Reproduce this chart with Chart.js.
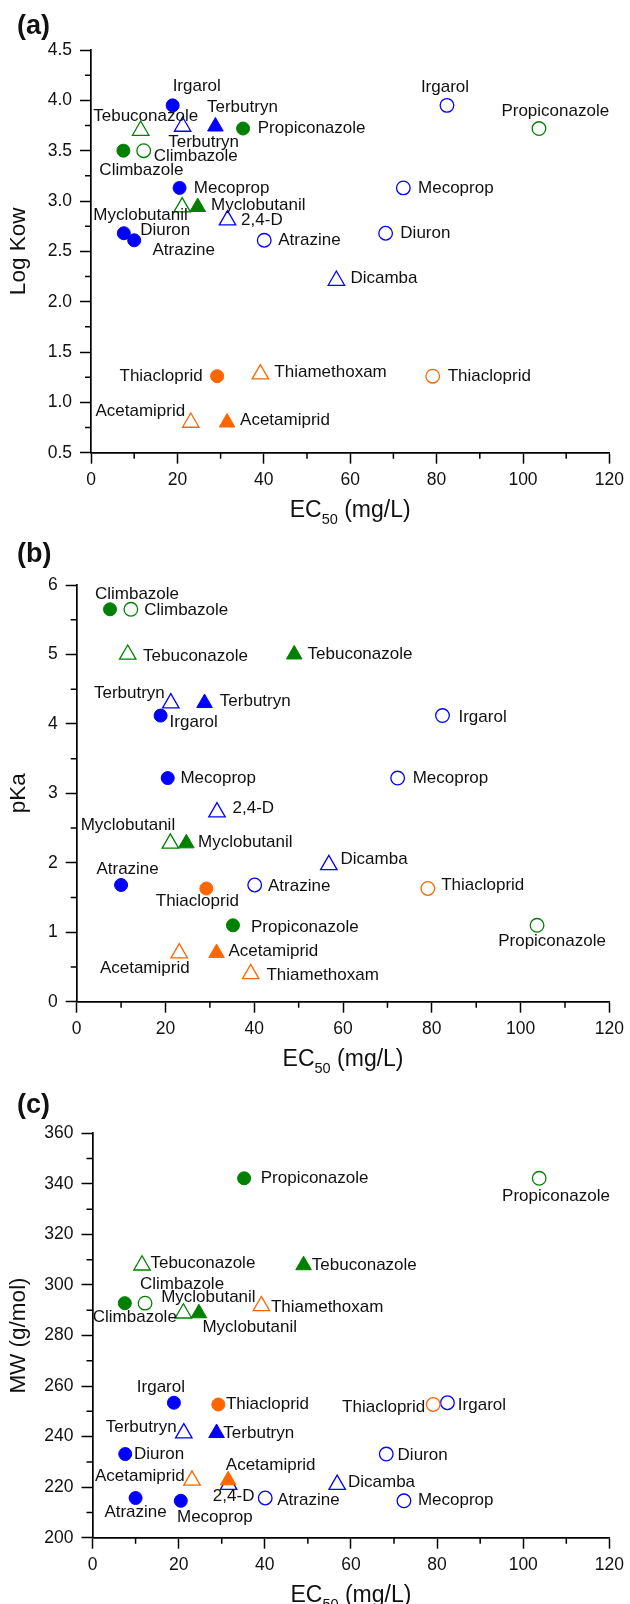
<!DOCTYPE html>
<html>
<head>
<meta charset="utf-8">
<script src="https://cdn.jsdelivr.net/npm/chart.js@4.4.0/dist/chart.umd.min.js"></script>
<style>
  body { margin: 0; background: #fff; width: 630px; height: 1604px; position: relative; overflow: hidden; }
  canvas { position: absolute; left: 0; }
</style>
</head>
<body>
<canvas id="chartA" width="630" height="540" style="top:0px"></canvas>
<canvas id="chartB" width="630" height="540" style="top:540px"></canvas>
<canvas id="chartC" width="630" height="524" style="top:1080px"></canvas>
<script>
// compounds and their properties
const compounds = ['Irgarol', 'Terbutryn', 'Propiconazole', 'Tebuconazole', 'Climbazole', 'Mecoprop', 'Myclobutanil',
    '2,4-D', 'Diuron', 'Atrazine', 'Dicamba', 'Thiacloprid', 'Thiamethoxam', 'Acetamiprid'];
const groups = ['herb', 'herb', 'fung', 'fung', 'fung', 'herb', 'fung', 'herb', 'herb', 'herb', 'herb', 'insect', 'insect', 'insect'];
const shapes = ['circle', 'triangle', 'circle', 'triangle', 'circle', 'circle', 'triangle', 'triangle', 'circle', 'circle',
    'triangle', 'circle', 'triangle', 'triangle'];

// EC50 (mg/L), filled and open symbols
const ec50Filled = [18.9, 28.8, 35.2, 49.0, 7.5, 20.5, 24.7, null, 7.6, 10.0, null, 29.2, null, 31.5];
const ec50Open = [82.4, 21.2, 103.7, 11.5, 12.2, 72.3, 21.1, 31.6, 68.2, 40.1, 56.8, 79.1, 39.2, 23.1];

const logKow = [3.95, 3.74, 3.72, 3.70, 3.50, 3.13, 2.94, 2.81, 2.68, 2.61, 2.21, 1.26, 1.28, 0.80];
const pKa = [4.12, 4.30, 1.10, 5.00, 5.65, 3.22, 2.28, 2.73, null, 1.68, 1.97, 1.63, 0.40, 0.70];
const mw = [253.4, 241.4, 342.2, 307.8, 292.8, 214.6, 288.8, 221.0, 233.1, 215.7, 221.0, 252.7, 291.7, 222.7];

// filled points that are not plotted in panel (a)
const skipFilledA = ['Tebuconazole'];

const xTicks = [0, 20, 40, 60, 80, 100, 120];
const yTicksA = [0.5, 1.0, 1.5, 2.0, 2.5, 3.0, 3.5, 4.0, 4.5];
const yTicksB = [0, 1, 2, 3, 4, 5, 6];
const yTicksC = [200, 220, 240, 260, 280, 300, 320, 340, 360];

const colorOf = { herb: '#0000ff', fung: '#008000', insect: '#ff6600' };
const FONT = "'Liberation Sans', Arial, sans-serif";

// label placement: [align, dx, dy] relative to the point
const labelsA = {
    filled: {
        Irgarol: ['l', 0, -19], Terbutryn: ['c', 27, -19], Propiconazole: ['l', 14.7, 0], Climbazole: ['c', 18, 19.3],
        Mecoprop: ['l', 14.3, 0], Myclobutanil: ['l', 13.3, -1.4], Diuron: ['l', 16.3, -2.6], Atrazine: ['l', 18.3, 10],
        Thiacloprid: ['r', -14.5, 0], Acetamiprid: ['l', 13, -2]
    },
    open: {
        Irgarol: ['c', -2, -17.7], Terbutryn: ['l', -14.4, 15.3], Propiconazole: ['c', 16.3, -17.7], Tebuconazole: ['c', 5, -14],
        Climbazole: ['l', 10, 6], Mecoprop: ['l', 14.7, 0], Myclobutanil: ['r', 5.6, 8.6], '2,4-D': ['l', 13.6, 0.3],
        Diuron: ['l', 14.7, 0], Atrazine: ['l', 14, 0], Dicamba: ['l', 14, -2.4], Thiacloprid: ['l', 15, 0],
        Thiamethoxam: ['l', 14, -1.4], Acetamiprid: ['r', -5.6, -11.4]
    }
};
const labelsB = {
    filled: {
        Climbazole: ['c', 27, -15], Tebuconazole: ['l', 13.3, 0], Terbutryn: ['l', 15.3, -1.4], Irgarol: ['l', 9, 7],
        Mecoprop: ['l', 12.7, 0], Myclobutanil: ['l', 11.7, -0.8], Atrazine: ['c', 6.5, -15.7], Thiacloprid: ['c', -9, 13],
        Propiconazole: ['l', 18, 1.7], Acetamiprid: ['l', 12, -2]
    },
    open: {
        Climbazole: ['l', 13.3, 1], Tebuconazole: ['l', 15.3, 1.6], Terbutryn: ['r', -6, -10], Irgarol: ['l', 16, 1.6],
        Mecoprop: ['l', 15, 0], '2,4-D': ['l', 15.6, -4], Myclobutanil: ['r', 4.8, -18], Dicamba: ['l', 11.7, -5.8],
        Atrazine: ['l', 13.3, 1.7], Thiacloprid: ['l', 13.3, -3], Propiconazole: ['c', 15, 16], Acetamiprid: ['r', 10.4, 15.2],
        Thiamethoxam: ['l', 15.7, 1]
    }
};
const labelsC = {
    filled: {
        Propiconazole: ['l', 16.6, 0], Tebuconazole: ['l', 8.3, 0.3], Climbazole: ['c', 10, 14], Myclobutanil: ['c', 50.8, 14.2],
        Irgarol: ['c', -13, -15.4], Thiacloprid: ['l', 7.6, 0], Terbutryn: ['l', 6.8, 0], Diuron: ['l', 8.8, 0],
        Acetamiprid: ['l', -2.4, -15.4], Atrazine: ['c', 0, 14], Mecoprop: ['c', 34, 16.6]
    },
    open: {
        Propiconazole: ['c', 16.8, 18], Tebuconazole: ['l', 8.4, -2.4], Climbazole: ['c', 37, -19], Myclobutanil: ['c', 25, -15.8],
        Thiamethoxam: ['l', 9.6, 1], Thiacloprid: ['r', -8, 3], Irgarol: ['l', 10.4, 2.3], Terbutryn: ['r', -7.2, -5.7],
        Diuron: ['l', 11.3, 1], Acetamiprid: ['r', -7.3, -4.1], '2,4-D': ['c', 5, 11.9], Dicamba: ['l', 10.8, -2.4],
        Atrazine: ['l', 12, 2.4], Mecoprop: ['l', 14, 0]
    }
};

function buildSet(prop, ec50, filled, skip) {
    let pts = [], style = [], radius = [], col = [];
    compounds.forEach(function (name, i) {
        if (ec50[i] === null || prop[i] === null || skip.includes(name)) return;
        pts.push({ x: ec50[i], y: prop[i], name: name });
        style.push(shapes[i]);
        if (shapes[i] === 'triangle') radius.push(filled ? 9 : 9.5);
        else radius.push(filled ? 6.5 : 6.8);
        col.push(colorOf[groups[i]]);
    });
    return {
        label: filled ? 'filled' : 'open',
        data: pts,
        pointStyle: style,
        pointRadius: radius,
        pointBackgroundColor: filled ? col : 'rgba(255,255,255,0)',
        pointBorderColor: col,
        pointBorderWidth: filled ? 1 : 1.3,
        showLine: false
    };
}

const decor = {
    id: 'decor',
    afterDraw(chart, args, o) {
        const ctx = chart.ctx, a = chart.chartArea;
        const xs = chart.scales.x, ys = chart.scales.y;
        ctx.save();

        // minor ticks
        ctx.strokeStyle = '#000';
        ctx.lineWidth = 1.5;
        ctx.beginPath();
        for (let v = xs.min + 10; v < xs.max; v += 20) {
            const px = xs.getPixelForValue(v);
            ctx.moveTo(px, a.bottom);
            ctx.lineTo(px, a.bottom + 6);
        }
        for (let v = ys.min + o.yMinor; v < ys.max; v += 2 * o.yMinor) {
            const py = ys.getPixelForValue(v);
            ctx.moveTo(a.left, py);
            ctx.lineTo(a.left - 6, py);
        }
        ctx.stroke();

        // point labels
        ctx.fillStyle = '#111';
        ctx.font = '17px ' + FONT;
        ctx.textBaseline = 'middle';
        chart.data.datasets.forEach(function (ds, di) {
            const meta = chart.getDatasetMeta(di);
            const spec = o.labels[ds.label];
            ds.data.forEach(function (p, j) {
                const s = spec[p.name];
                if (!s) return;
                const el = meta.data[j];
                ctx.textAlign = s[0] === 'l' ? 'left' : (s[0] === 'r' ? 'right' : 'center');
                ctx.fillText(p.name, el.x + s[1], el.y + s[2]);
            });
        });

        // x-axis title with subscript
        ctx.textBaseline = 'alphabetic';
        ctx.textAlign = 'left';
        ctx.font = '23px ' + FONT;
        const w1 = ctx.measureText('EC').width;
        const w3 = ctx.measureText(' (mg/L)').width;
        ctx.font = '14.5px ' + FONT;
        const w2 = ctx.measureText('50').width;
        const base = a.bottom + 64;
        let x0 = (a.left + a.right) / 2 - (w1 + w2 + w3) / 2;
        ctx.font = '23px ' + FONT;
        ctx.fillText('EC', x0, base);
        ctx.font = '14.5px ' + FONT;
        ctx.fillText('50', x0 + w1, base + 7);
        ctx.font = '23px ' + FONT;
        ctx.fillText(' (mg/L)', x0 + w1 + w2, base);

        // panel letter
        ctx.font = 'bold 27px ' + FONT;
        ctx.fillText(o.letter, 17, o.letterY);
        ctx.restore();
    }
};

function makeChart(id, prop, yTicks, yMinor, yDec, yTitle, letter, letterY, lay, labels, skip) {
    new Chart(document.getElementById(id), {
        type: 'scatter',
        data: {
            datasets: [buildSet(prop, ec50Filled, true, skip), buildSet(prop, ec50Open, false, [])]
        },
        options: {
            responsive: false,
            animation: false,
            devicePixelRatio: 1,
            events: [],
            layout: { padding: { left: 0, top: lay.top, right: lay.right, bottom: 0 } },
            plugins: {
                legend: { display: false },
                tooltip: { enabled: false },
                decor: { yMinor: yMinor, labels: labels, letter: letter, letterY: letterY }
            },
            scales: {
                x: {
                    type: 'linear',
                    min: xTicks[0],
                    max: xTicks[xTicks.length - 1],
                    afterFit: function (s) { s.height = lay.xh; },
                    afterBuildTicks: function (s) { s.ticks = xTicks.map(v => ({ value: v })); },
                    ticks: { font: { family: FONT, size: 17.5 }, color: '#111', padding: 6, maxRotation: 0 },
                    grid: { drawOnChartArea: false, drawTicks: true, tickLength: 11, tickColor: '#000', tickWidth: 1.5 },
                    border: { display: true, color: '#000', width: 1.7 }
                },
                y: {
                    type: 'linear',
                    min: yTicks[0],
                    max: yTicks[yTicks.length - 1],
                    afterFit: function (s) { s.width = lay.yw; },
                    afterBuildTicks: function (s) { s.ticks = yTicks.map(v => ({ value: v })); },
                    ticks: {
                        font: { family: FONT, size: 17.5 }, color: '#111', padding: 8,
                        callback: function (v) { return v.toFixed(yDec); }
                    },
                    grid: { drawOnChartArea: false, drawTicks: true, tickLength: 11, tickColor: '#000', tickWidth: 1.5 },
                    border: { display: true, color: '#000', width: 1.7 },
                    title: { display: true, text: yTitle, color: '#111', font: { family: FONT, size: 22.5 }, padding: { top: 5, bottom: 0 } }
                }
            }
        },
        plugins: [decor]
    });
}

makeChart('chartA', logKow, yTicksA, 0.25, 1, 'Log Kow', '(a)', 34,
    { top: 50, right: 18.5, yw: 91, xh: 87.3 }, labelsA, skipFilledA);
makeChart('chartB', pKa, yTicksB, 0.5, 0, 'pKa', '(b)', 22,
    { top: 45, right: 17.3, yw: 76.7, xh: 78.3 }, labelsB, []);
makeChart('chartC', mw, yTicksC, 10, 0, 'MW (g/mol)', '(c)', 33,
    { top: 53.3, right: 15.3, yw: 92.5, xh: 66.3 }, labelsC, []);
</script>
</body>
</html>
